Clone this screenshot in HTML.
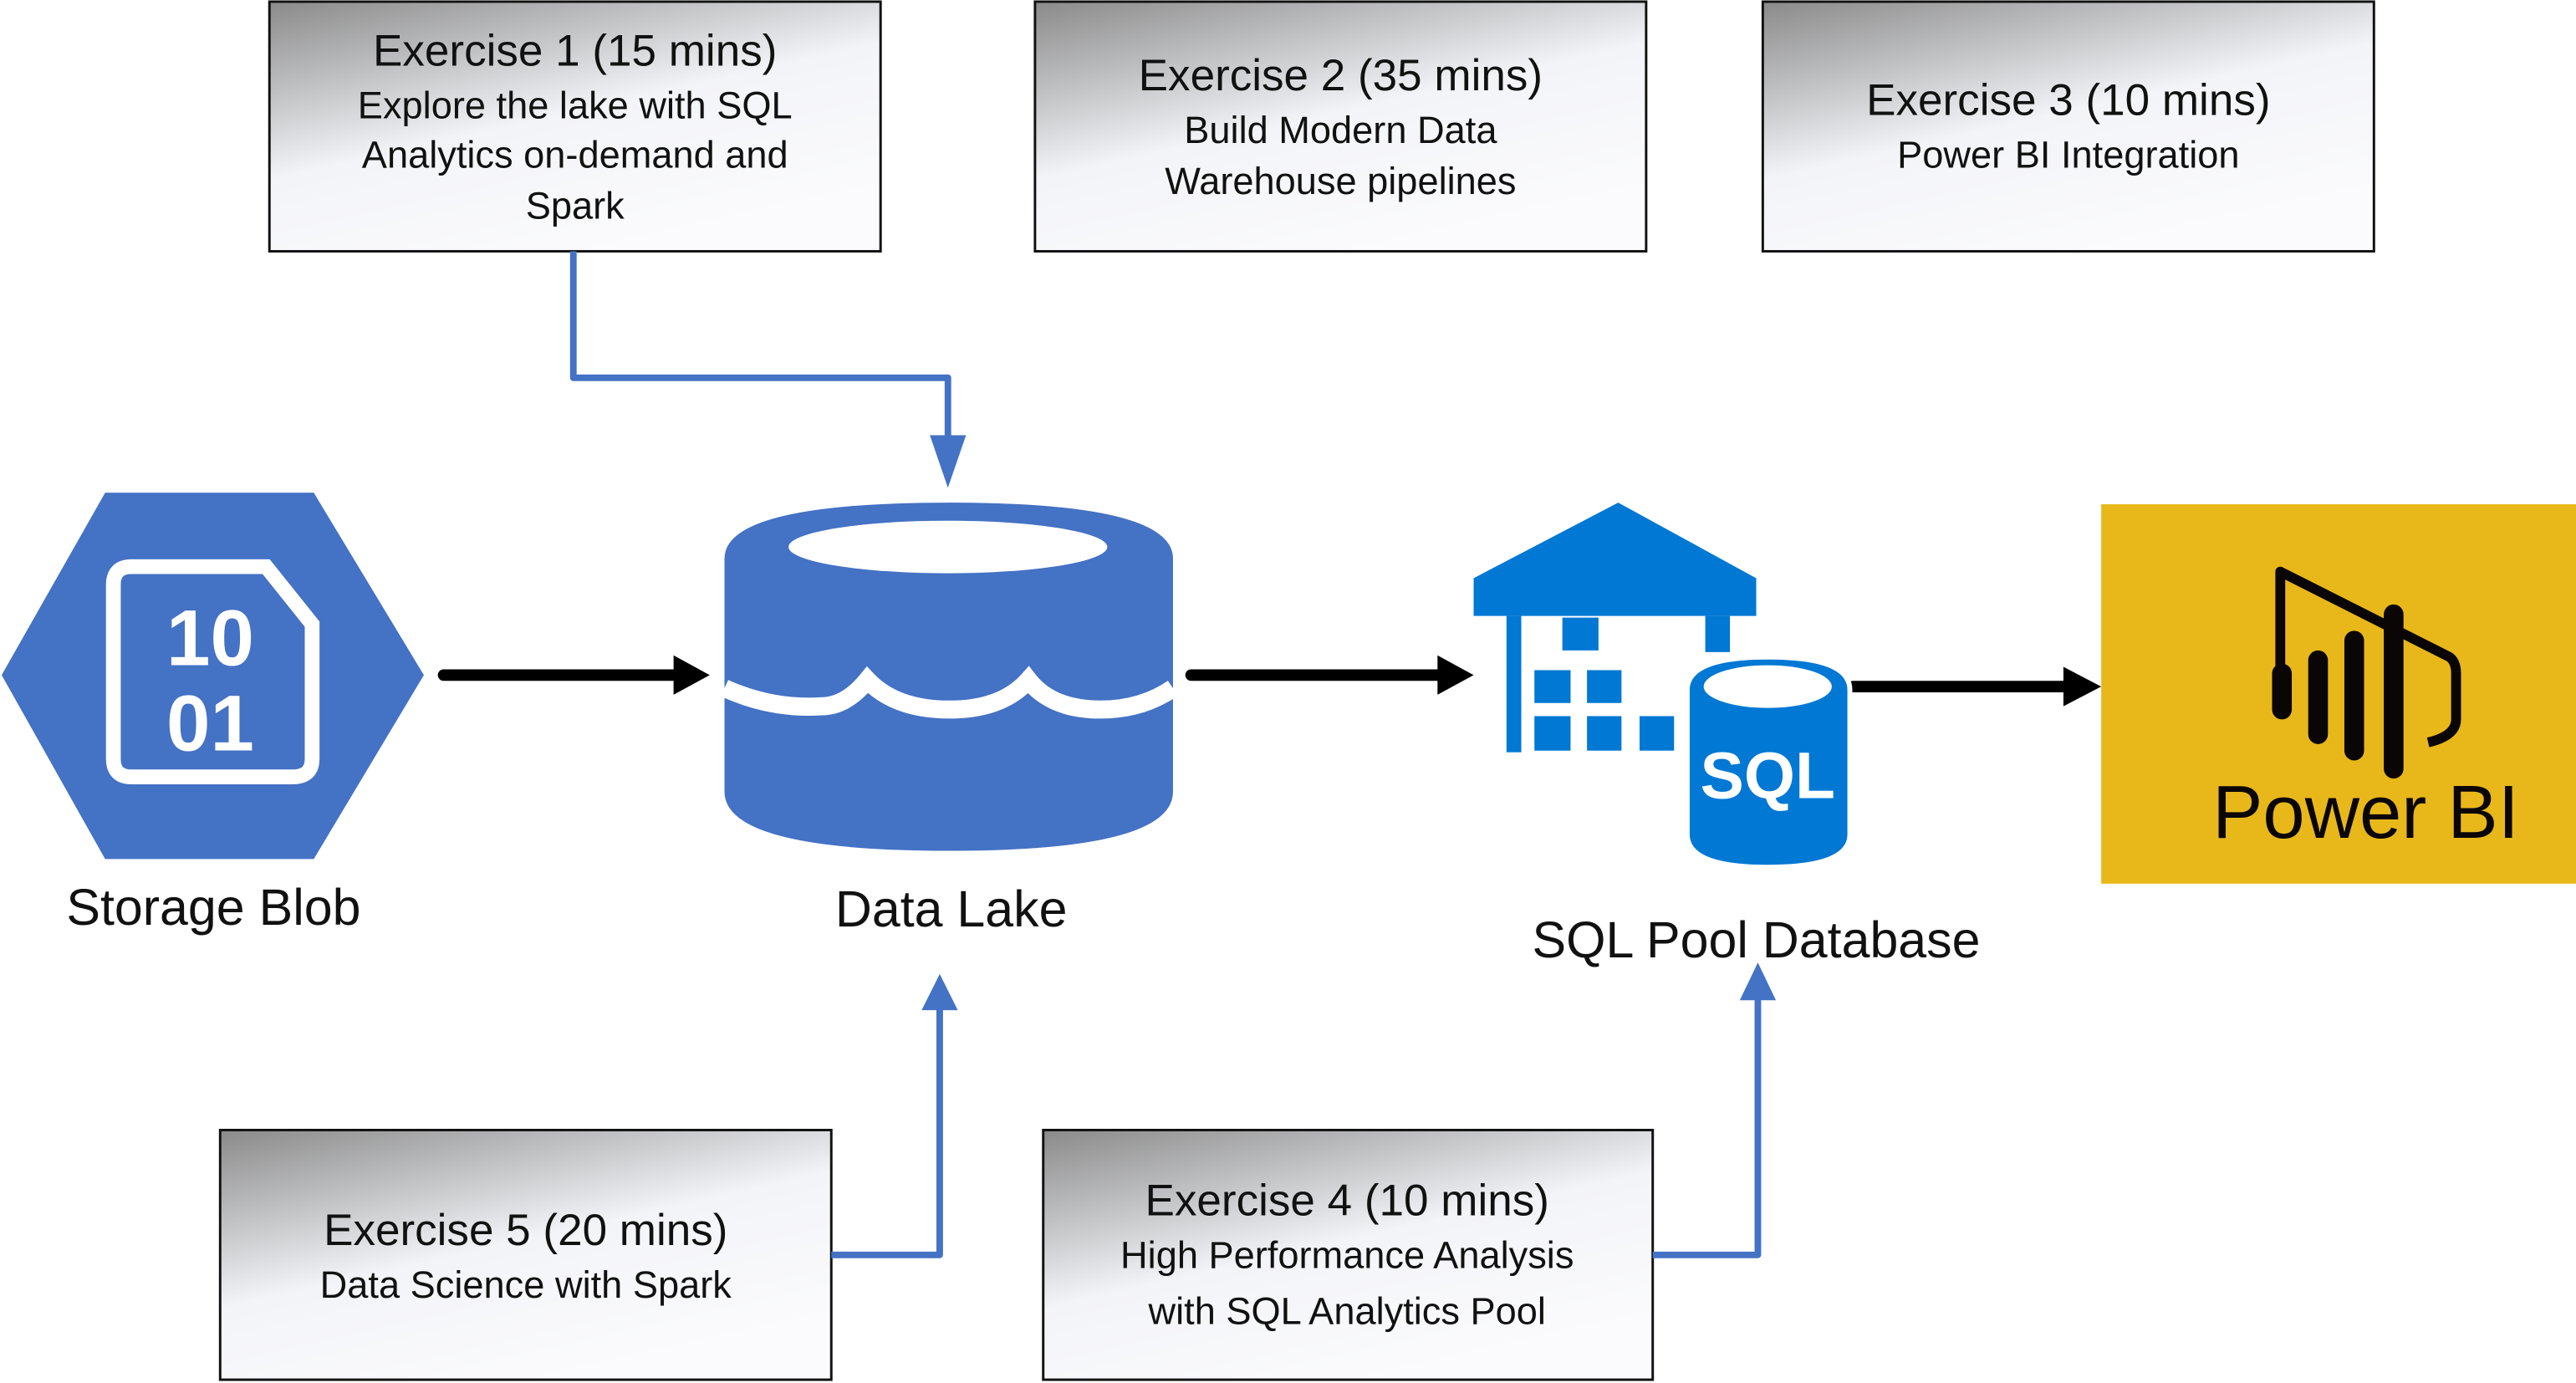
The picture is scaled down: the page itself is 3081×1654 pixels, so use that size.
<!DOCTYPE html>
<html><head><meta charset="utf-8"><style>
html,body{margin:0;padding:0;background:#fff;}
svg{display:block;}
text{font-family:"Liberation Sans",sans-serif;}
</style></head><body>
<svg width="3081" height="1654" viewBox="0 0 1568 842" preserveAspectRatio="none" xmlns="http://www.w3.org/2000/svg">
<defs>
<linearGradient id="g" x1="0" y1="0" x2="0.55" y2="1">
<stop offset="0" stop-color="#8a8a8a"/><stop offset="0.55" stop-color="#f3f4f8"/><stop offset="1" stop-color="#fbfbfd"/>
</linearGradient>
</defs>
<g stroke="#111" stroke-width="1.5" fill="url(#g)">
<rect x="164" y="1" width="372" height="152"/>
<rect x="630" y="1" width="372" height="152"/>
<rect x="1073" y="1" width="372" height="152"/>
<rect x="134" y="688" width="372" height="152"/>
<rect x="635" y="688" width="371" height="152"/>
</g>
<g fill="#111" text-anchor="middle">
<text x="350" y="40" font-size="27">Exercise 1 (15 mins)</text>
<text x="350" y="72" font-size="23">Explore the lake with SQL</text>
<text x="350" y="102" font-size="23">Analytics on-demand and</text>
<text x="350" y="133" font-size="23">Spark</text>
<text x="816" y="55" font-size="27">Exercise 2 (35 mins)</text>
<text x="816" y="87" font-size="23">Build Modern Data</text>
<text x="816" y="118" font-size="23">Warehouse pipelines</text>
<text x="1259" y="70" font-size="27">Exercise 3 (10 mins)</text>
<text x="1259" y="102" font-size="23">Power BI Integration</text>
<text x="320" y="758" font-size="27">Exercise 5 (20 mins)</text>
<text x="320" y="790" font-size="23">Data Science with Spark</text>
<text x="820" y="740" font-size="27">Exercise 4 (10 mins)</text>
<text x="820" y="772" font-size="23">High Performance Analysis</text>
<text x="820" y="806" font-size="23">with SQL Analytics Pool</text>
<text x="130" y="563" font-size="31">Storage Blob</text>
<text x="579" y="564" font-size="31">Data Lake</text>
<text x="1069" y="583" font-size="31">SQL Pool Database</text>
</g>
<!-- hexagon -->
<polygon points="1,411 64,300 191,300 258,411 191,523 64,523" fill="#4472c4"/>
<path d="M80,345 H162 L190,380 V462 Q190,473 178,473 H80 Q69,473 69,462 V356 Q69,345 80,345 Z" fill="none" stroke="#fff" stroke-width="9"/>
<text x="128" y="405" font-size="48" font-weight="bold" fill="#fff" text-anchor="middle">10</text>
<text x="128" y="457" font-size="48" font-weight="bold" fill="#fff" text-anchor="middle">01</text>
<!-- data lake -->
<path d="M441,340 Q441,306 578,306 Q714,306 714,340 V482 Q714,518 578,518 Q441,518 441,482 Z" fill="#4472c4"/>
<ellipse cx="577" cy="333" rx="97" ry="16" fill="#fff"/>
<path d="M441,419 Q470,432 500,430 Q515,430 528,414 Q545,432 578,432 Q610,432 626,414 Q640,432 670,432 Q695,432 714,419" fill="none" stroke="#fff" stroke-width="11"/>
<!-- connectors -->
<g stroke="#4472c4" stroke-width="4" fill="none" stroke-linejoin="round">
<polyline points="349,153 349,230 577,230 577,265"/>
<polyline points="506,764 572,764 572,612"/>
<polyline points="1006,764 1070,764 1070,606"/>
</g>
<g fill="#4472c4">
<polygon points="566,265 588,265 577,297"/>
<polygon points="561,615 583,615 572,593"/>
<polygon points="1059,609 1081,609 1070,586"/>
</g>
<!-- black arrows -->
<g stroke="#000" stroke-width="7" stroke-linecap="round">
<line x1="270" y1="411" x2="412" y2="411"/>
<line x1="725" y1="411" x2="878" y2="411"/>
<line x1="1128" y1="418" x2="1258" y2="418"/>
</g>
<g fill="#000">
<polygon points="410,399 432,411 410,423"/>
<polygon points="875,399 897,411 875,423"/>
<polygon points="1256,406 1279,418 1256,430"/>
</g>
<!-- warehouse -->
<g fill="#0078d4">
<polygon points="985,306 1069,352 1069,375 897,375 897,352"/>
<rect x="917" y="375" width="9" height="83"/>
<rect x="1038" y="375" width="15" height="22"/>
<rect x="951" y="376" width="22" height="20"/>
<rect x="934" y="408" width="22" height="20"/>
<rect x="966" y="408" width="21" height="20"/>
<rect x="934" y="436" width="22" height="21"/>
<rect x="966" y="436" width="21" height="21"/>
<rect x="998" y="436" width="21" height="21"/>
</g>
<path d="M1027,420 Q1027,400 1076,400 Q1126,400 1126,420 V508 Q1126,528 1076,528 Q1027,528 1027,508 Z" fill="#0078d4" stroke="#fff" stroke-width="3"/>
<ellipse cx="1076" cy="418" rx="39" ry="13" fill="#fff"/>
<text x="1076" y="486" font-size="40" font-weight="bold" fill="#fff" text-anchor="middle">SQL</text>
<!-- power bi -->
<rect x="1279" y="307" width="289" height="231" fill="#e8b81a"/>
<path d="M1388,408 V348 L1491,400 Q1495,403 1495,410 V438 Q1495,448 1478,452" fill="none" stroke="#0a0606" stroke-width="6" stroke-linejoin="round"/>
<g stroke="#0a0606" stroke-width="12" stroke-linecap="round">
<line x1="1389" y1="410" x2="1389" y2="432"/>
<line x1="1411" y1="402" x2="1411" y2="447"/>
<line x1="1433" y1="390" x2="1433" y2="457"/>
<line x1="1457" y1="374" x2="1457" y2="468"/>
</g>
<text x="1440" y="510" font-size="46" fill="#0a0606" text-anchor="middle">Power BI</text>
</svg>
</body></html>
